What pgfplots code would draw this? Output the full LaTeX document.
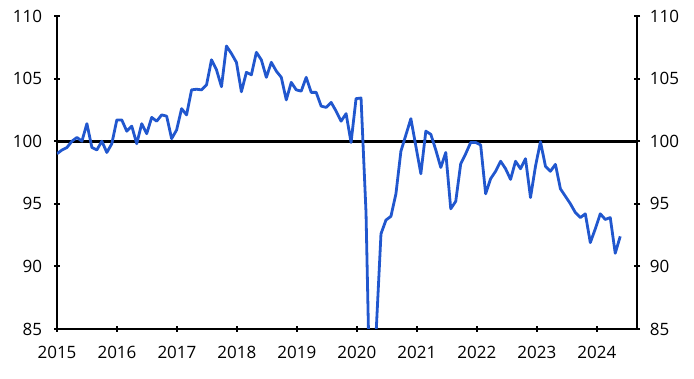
\documentclass[border=0pt]{standalone}
\usepackage{fontspec}
\setmainfont{Open Sans}
\usepackage{pgfplots}
\usepackage{pgfplotstable}
\pgfplotsset{compat=1.18}
\definecolor{ceblue}{RGB}{33,87,206}
\pgfplotstableread{
v
99.0
99.3
99.5
100.0
100.3
100.0
101.4
99.5
99.3
100.0
99.1
99.8
101.7
101.7
100.8
101.2
99.8
101.4
100.6
101.9
101.6
102.1
102.0
100.2
100.9
102.6
102.1
104.1
104.15
104.1
104.5
106.5
105.7
104.35
107.6
107.0
106.3
103.95
105.5
105.3
107.1
106.5
105.1
106.3
105.6
105.1
103.3
104.7
104.1
104.0
105.1
103.9
103.9
102.8
102.7
103.1
102.4
101.6
102.2
99.9
103.4
103.45
94.3
75.0
84.5
92.6
93.7
94.0
95.8
99.2
100.5
101.8
99.6
97.4
100.8
100.55
99.3
97.9
99.1
94.6
95.2
98.2
99.0
99.9
99.9
99.7
95.8
97.0
97.6
98.4
97.8
96.95
98.4
97.8
98.6
95.5
98.0
99.96
98.0
97.6
98.15
96.2
95.6
95.0
94.3
93.9
94.2
91.9
93.0
94.2
93.75
93.9
91.05
92.4
}\datatable
\begin{document}
\fontsize{17bp}{20bp}\selectfont
\begin{tikzpicture}
\pgfplotsset{common/.style={
  scale only axis, width=580bp, height=313bp,
  xmin=2015, xmax=2024.67, ymin=85, ymax=110,
  at={(0,0)}, anchor=south west,
  tick align=outside, major tick length=6bp,
  every tick/.style={black, line width=2bp},
  /pgf/number format/assume math mode=true,
  ytick={85,90,95,100,105,110},
  yticklabels={85,90,95,100,105,110},
  ticklabel style={font=\fontsize{17bp}{20bp}\selectfont, text=black},
}}
\begin{axis}[common, name=ax,
  axis x line=bottom, axis y line=left,
  axis line style={-, black, line width=2.5bp},
  xtick={2015,2016,2017,2018,2019,2020,2021,2022,2023,2024},
  xticklabels={2015,2016,2017,2018,2019,2020,2021,2022,2023,2024},
  xticklabel style={yshift=-8bp},
  yticklabel style={xshift=-6bp},
]
\addplot[black, line width=2.8bp, forget plot] coordinates {(2015,100) (2024.67,100)};
\addplot[ceblue, line width=2.8bp, line join=round, no markers] table[x expr=2015+\coordindex*0.0831, y=v] {\datatable};
\end{axis}
\begin{axis}[common,
  axis x line=none, axis y line=right,
  axis line style={-, black, line width=2.5bp},
  yticklabel style={xshift=4bp},
]
\end{axis}
\pgfresetboundingbox
\path[use as bounding box] (ax.south west) ++(-57bp,-50bp) rectangle ++(694bp,379bp);
\end{tikzpicture}
\end{document}
